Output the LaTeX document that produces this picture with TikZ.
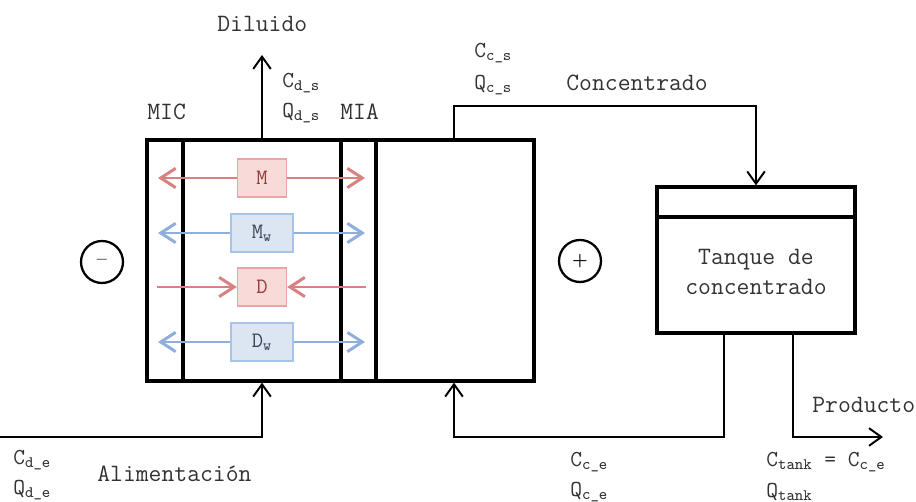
\documentclass[tikz,border=0pt]{standalone}
\usepackage{fontspec}
\usepackage{xcolor}
\usepackage{tikz}
\usetikzlibrary{arrows.meta}
\definecolor{ionred}{RGB}{217,128,128}
\definecolor{ionblue}{RGB}{143,174,219}
\definecolor{fillred}{RGB}{248,218,217}
\definecolor{edgered}{RGB}{232,165,165}
\definecolor{fillblue}{RGB}{220,230,242}
\definecolor{edgeblue}{RGB}{167,196,232}
\definecolor{txtred}{RGB}{150,60,60}
\definecolor{txtblue}{RGB}{60,70,90}
\definecolor{txtgray}{RGB}{50,50,50}

\begin{document}
\begin{tikzpicture}[x=0.02cm,y=-0.02cm,
  wall/.style={line width=1.9pt},
  memb/.style={line width=2.4pt},
  flow/.style={line width=1.1pt,-{Straight Barb[length=7pt,width=10pt]}},
  ion/.style={line width=1.7pt,-{Straight Barb[length=8.5pt,width=11pt]}},
  redbox/.style={draw=edgered,fill=fillred,line width=0.8pt,text=txtred,font=\ttfamily\fontsize{12.5}{14}\selectfont,minimum width=0.98cm,minimum height=0.76cm},
  bluebox/.style={draw=edgeblue,fill=fillblue,line width=0.8pt,text=txtblue,font=\ttfamily\fontsize{12.5}{14}\selectfont,minimum width=1.24cm,minimum height=0.76cm},
  pole/.style={circle,draw,line width=1.3pt,minimum size=0.84cm,inner sep=0pt,font=\bfseries},
  lbl/.style={anchor=west,inner sep=0pt,text=txtgray,font=\ttfamily\fontsize{14.2}{17}\selectfont},
  var/.style={anchor=west,inner sep=0pt,text=txtgray,font=\ttfamily\fontsize{13}{15}\selectfont}]
\useasboundingbox (0,0) rectangle (916,502);
\node[draw,wall,minimum width=7.74cm,minimum height=4.82cm] (cell) at (340.5,260.5) {};
\draw[memb] (183,140) -- (183,381);
\draw[memb] (341,140) -- (341,381);
\draw[memb] (376,140) -- (376,381);
\node[draw,wall,minimum width=3.96cm,minimum height=2.92cm] (tank) at (756,260) {};
\draw[wall] (657,217) -- (855,217);
\node[align=center,text=txtgray,font=\ttfamily\fontsize{14.2}{17}\selectfont] (tanklbl) at (756,272) {Tanque de\\concentrado};

\node[redbox] (M) at (262,178) {M};
\node[bluebox] (Mw) at (262,233) {M\textsubscript{w}};
\node[redbox] (D) at (262,287) {D};
\node[bluebox] (Dw) at (262,342) {D\textsubscript{w}};
\foreach \n/\c/\y in {M/ionred/178,Mw/ionblue/233,Dw/ionblue/342}{
  \coordinate (\n l) at (158,\y);
  \coordinate (\n r) at (365,\y);
  \draw[ion,\c] (\n) -- (\n l);
  \draw[ion,\c] (\n) -- (\n r);
}
\coordinate (Dl) at (157,287);
\coordinate (Dr) at (366,287);
\draw[ion,ionred] (Dl) -- (D);
\draw[ion,ionred] (Dr) -- (D);

\node[pole] (neg) at (102,262) {\textendash};
\node[pole] (pos) at (580,261) {+};

\node[lbl] (mic) at (147,112) {MIC};
\node[lbl] (mia) at (340,112) {MIA};
\node[lbl] (dil) at (217,24) {Diluido};
\node[var] (cds) at (282,83) {C\textsubscript{d\_s}};
\node[var] (qds) at (282,113) {Q\textsubscript{d\_s}};
\node[var] (ccs) at (474,53) {C\textsubscript{c\_s}};
\node[var] (qcs) at (474,85) {Q\textsubscript{c\_s}};
\node[lbl] (conc) at (566,83) {Concentrado};
\node[lbl] (prod) at (812,405) {Producto};
\node[var] (cde) at (13,460) {C\textsubscript{d\_e}};
\node[var] (qde) at (13,490) {Q\textsubscript{d\_e}};
\node[lbl] (alim) at (97,474) {Alimentación};
\node[var] (cce) at (570,462) {C\textsubscript{c\_e}};
\node[var] (qce) at (570,492) {Q\textsubscript{c\_e}};
\node[var] (ctank) at (766,462) {C\textsubscript{tank} = C\textsubscript{c\_e}};
\node[var] (qtank) at (766,492) {Q\textsubscript{tank}};

\coordinate (dilout) at (262,55);
\draw[flow] (cell.north -| dilout) -- (dilout);
\coordinate (cs) at (454,106);
\draw[flow] (cell.north -| cs) -- (cs) -| (tank.north);
\coordinate (feed) at (0,437);
\coordinate (feedup) at (262,437);
\draw[flow] (feed) -- (feedup) -- (cell.south -| feedup);
\coordinate (ret) at (724,437);
\coordinate (retup) at (454,437);
\draw[flow] (tank.south -| ret) -- (ret) -- (retup) -- (cell.south -| retup);
\coordinate (p) at (793,437);
\coordinate (prodout) at (883,437);
\draw[flow] (tank.south -| p) -- (p) -- (prodout);
\end{tikzpicture}
\end{document}
